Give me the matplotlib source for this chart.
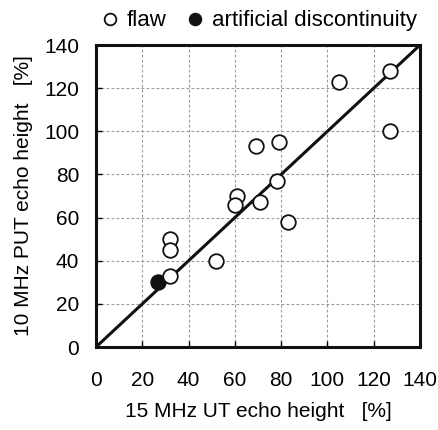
import matplotlib
matplotlib.use("Agg")
import matplotlib.pyplot as plt

plt.rcParams["font.family"] = ["Liberation Sans", "DejaVu Sans"]

# flaw echo heights (15 MHz UT, 10 MHz PUT)
flaw_ut = [105, 127, 127, 69, 79, 78, 61, 60, 71, 83, 32, 32, 52, 32]
flaw_put = [123, 128, 100, 93, 95, 77, 70, 66, 67, 58, 50, 45, 40, 33]
# artificial discontinuity
art_ut = [27]
art_put = [30]

ticks = [0, 20, 40, 60, 80, 100, 120, 140]

fig = plt.figure(figsize=(4.39, 4.30), dpi=100)
ax = fig.add_axes([0.2187, 0.193, 0.7380, 0.7023])

ax.plot([0, 140], [0, 140], color="#111111", lw=2.2, zorder=2)
ax.plot(art_ut, art_put, "o", ms=10.5, mfc="#111111", mec="#111111", mew=1.3,
        label="artificial discontinuity", zorder=3)
ax.plot(flaw_ut, flaw_put, "o", ms=10.5, mfc="white", mec="#111111", mew=1.3,
        label="flaw", zorder=4)

ax.set_xlim(0, 140)
ax.set_ylim(0, 140)
ax.set_xticks(ticks)
ax.set_yticks(ticks)
ax.grid(True, color="#999999", ls=(0, (2.5, 2)), lw=0.8)
ax.tick_params(direction="in", length=4, width=1, labelsize=15)
ax.tick_params(axis="x", pad=17)
ax.tick_params(axis="y", pad=12)
for s in ax.spines.values():
    s.set_linewidth(2.2)
    s.set_color("#111111")

ax.set_xlabel("15 MHz UT echo height   [%]", fontsize=15, labelpad=9)
ax.set_ylabel("10 MHz PUT echo height   [%]", fontsize=15, labelpad=8)

h, l = ax.get_legend_handles_labels()
ax.legend(h[::-1], l[::-1], loc="lower center", bbox_to_anchor=(0.5, 1.045), ncol=2,
          frameon=False, fontsize=16, handletextpad=0.25, columnspacing=0.8,
          handlelength=1.0, borderaxespad=0.0, borderpad=0.0, markerscale=0.8)

fig.savefig("out.png", dpi=100)
